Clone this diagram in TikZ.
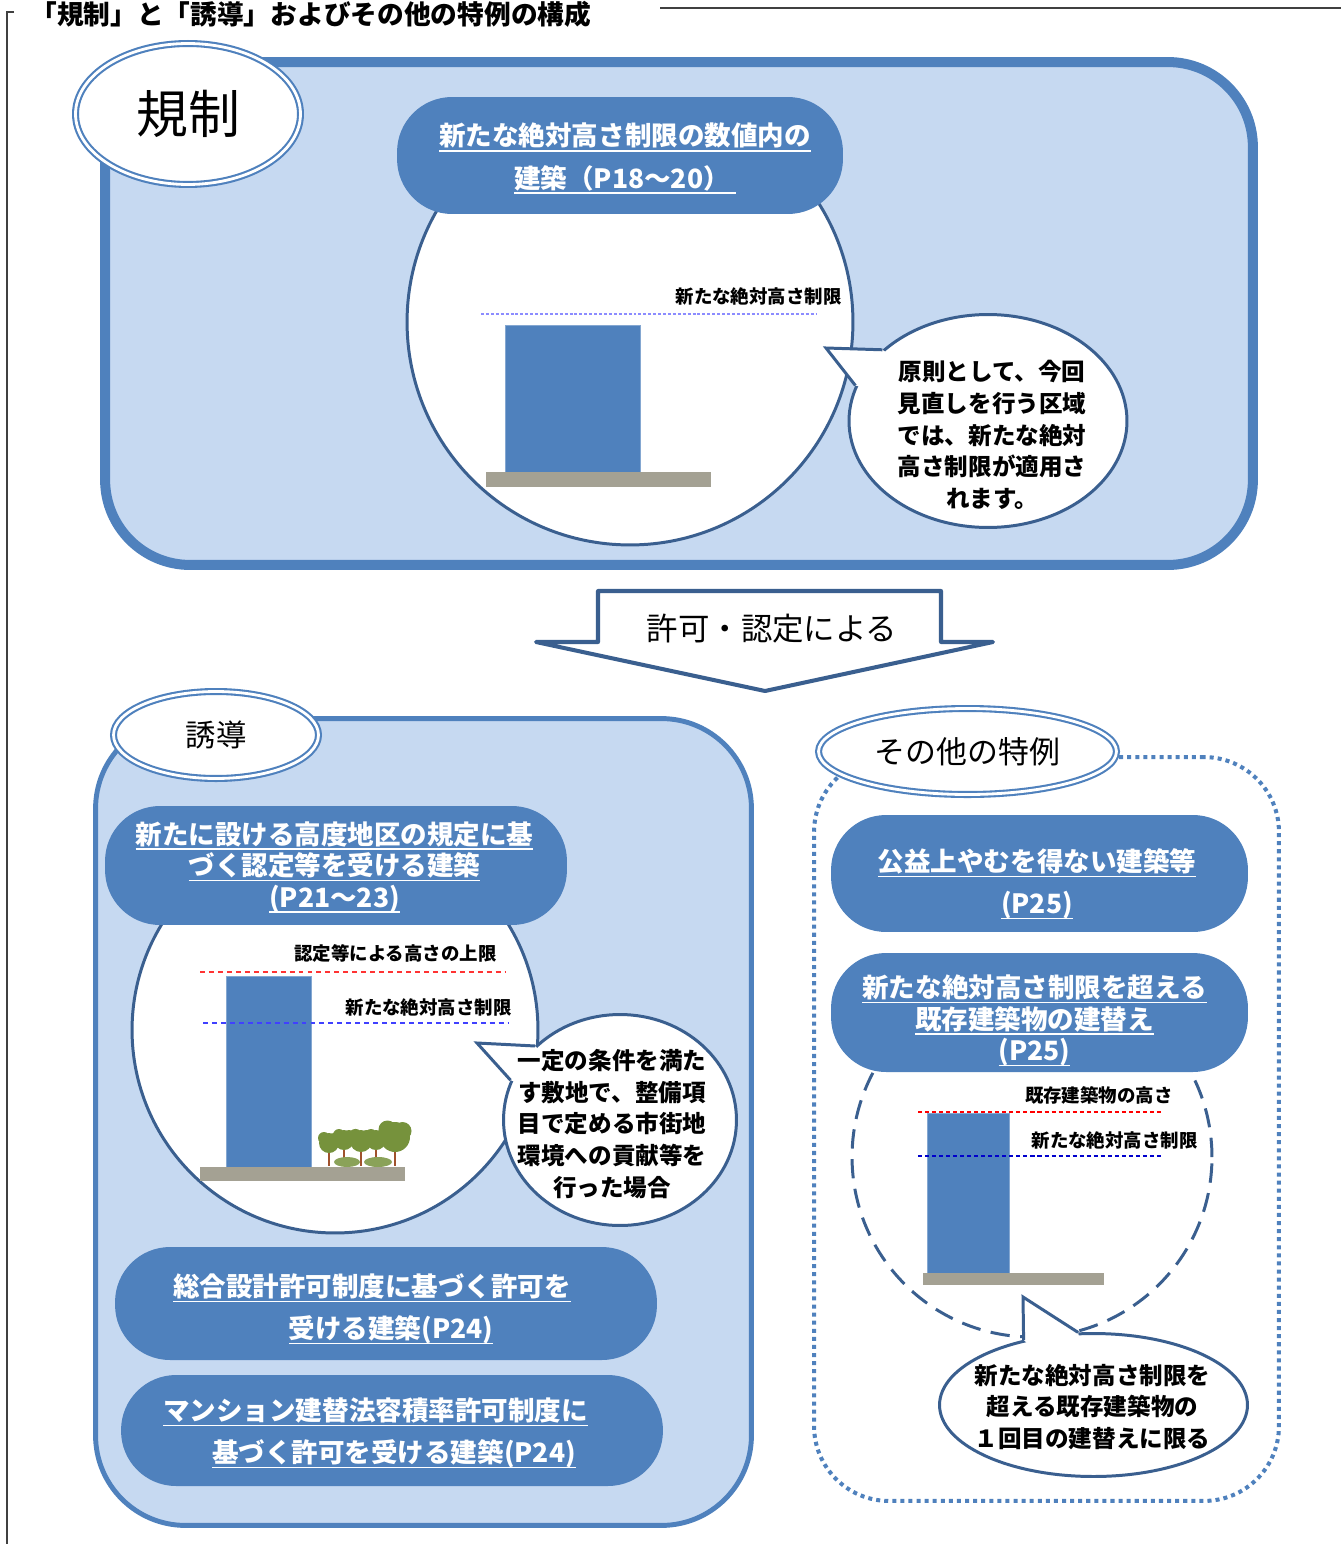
\documentclass[tikz,border=0pt]{standalone}
\usepackage{fontspec}
\setmainfont{Noto Sans CJK JP}
\usetikzlibrary{shapes.geometric, calc}

\definecolor{zonefill}{HTML}{C6D9F1}
\definecolor{zoneline}{HTML}{4F81BD}
\definecolor{pillblue}{HTML}{4F81BD}
\definecolor{rimblue}{HTML}{3A5F8F}
\definecolor{groundgray}{HTML}{A4A193}
\definecolor{leaf}{HTML}{76923C}
\definecolor{trunkbrown}{HTML}{A0522D}
\definecolor{framegray}{HTML}{404040}

\newcommand\pilltxt{\fontsize{15.1}{24}\selectfont\bfseries}
\newcommand\pilltxtc{\fontsize{15.1}{17.9}\selectfont\bfseries}
\newcommand\notetxt{\fontsize{10.5}{12}\selectfont\bfseries}
\newcommand\saytxt{\fontsize{13.4}{18.1}\selectfont\bfseries}
\newcommand\ulin[1]{\leavevmode\setbox0=\hbox{#1}\rlap{\rule[-3.2pt]{\wd0}{0.9pt}}\box0}

\tikzset{
  zone/.style={draw=zoneline, fill=zonefill, inner sep=0pt},
  pill/.style={fill=pillblue, rounded corners=1.1cm, inner sep=0pt},
  pilltext/.style={text=white, align=center, inner sep=0pt},
  tagoval/.style={ellipse, draw=zoneline, line width=1.2pt, double=white, double distance=1.6pt, fill=white, inner sep=0pt},
  lens/.style={circle, draw=rimblue, fill=white, line width=1.7pt, inner sep=0pt},
  balloon/.style={ellipse, draw=rimblue, fill=white, line width=1.7pt, inner sep=0pt},
  balloonedge/.style={draw=rimblue, line width=1.7pt, line join=miter},
  tower/.style={fill=pillblue, draw=pillblue!70!white, line width=0.4pt},
  ground/.style={fill=groundgray},
  limit/.style={dash pattern=on 2.8pt off 2.3pt, line width=0.85pt},
  note/.style={font=\notetxt, anchor=east, inner sep=0pt},
  say/.style={font=\saytxt, align=center, inner sep=0pt}
}

\begin{document}
\begin{tikzpicture}[x=0.02cm, y=-0.02cm]
  \useasboundingbox (0,0) rectangle (1341,1544);

  \draw[framegray, line width=0.8pt] (14,12) -- (7,12) -- (7,1544);
  \draw[framegray, line width=0.8pt] (660,8) -- (1341,8);
  \node[font=\fontsize{15.2}{18}\selectfont\bfseries, anchor=west, inner sep=0pt] (title) at (30,14)
    {「規制」と「誘導」およびその他の特例の構成};

  % upper zone
  \node[zone, line width=5.7pt, rounded corners=1.7cm, minimum width=22.96cm, minimum height=10.06cm] (kisei) at (679,313.5) {};
  \node[lens, minimum size=8.92cm] (lens1) at (630,322) {};
  \coordinate (lim1a) at (481,314);
  \coordinate (lim1b) at (817,314);
  \draw[color=blue!45, dash pattern=on 1.7pt off 1.1pt, line width=0.6pt] (lim1a) -- (lim1b);
  \node[note] (lim1txt) at (842,296) {新たな絶対高さ制限};
  \fill[tower] (505,325) rectangle (640,472);
  \fill[ground] (486,472) rectangle (711,487);
  \node[pill, minimum width=8.92cm, minimum height=2.34cm] (p1) at (620,155.5) {};
  \node[pilltext, font=\pilltxt] (p1txt) at (625,158.5)
    {\ulin{新たな絶対高さ制限の数値内の}\\\ulin{建築（P18～20）\ }};
  \node[balloon, minimum width=5.56cm, minimum height=4.26cm] (say1) at (988,421) {};
  \coordinate (tip1) at (826,348);
  \fill[white] (tip1) -- (say1.146) -- ($(say1.146)!0.12!(say1.center)$) -- ($(say1.165)!0.12!(say1.center)$) -- (say1.165) -- cycle;
  \draw[balloonedge] (say1.146) -- (tip1) -- (say1.165);
  \node[say] (say1txt) at (992,435) {原則として、今回\\見直しを行う区域\\では、新たな絶対\\高さ制限が適用さ\\れます。};
  \node[tagoval, font=\fontsize{29.5}{30}\selectfont, minimum width=4.5cm, minimum height=2.82cm] (kiseitag) at (188,114)
    {\raisebox{-2.3pt}{規制}};

  % arrow
  \draw[rimblue, line width=2.3pt, fill=white, line join=round]
    (598,591) -- (941,591) -- (941,642) -- (993,642) -- (765,691) -- (536,642) -- (598,642) -- cycle;
  \node[font=\fontsize{17.9}{20}\selectfont] (via) at (772,629) {許可・認定による};

  % lower left zone
  \node[zone, line width=2.8pt, rounded corners=1.8cm, minimum width=13.12cm, minimum height=16.14cm] (yudo) at (423.5,1122) {};
  \node[lens, minimum size=8.12cm] (lens2) at (335,1030) {};
  \draw[limit, color=red!80] (200,972) -- (505,972);
  \node[note] (lim2txt) at (497,953) {認定等による高さの上限};
  \node[note] (lim3txt) at (512,1007) {新たな絶対高さ制限};
  \fill[tower] (226,976) rectangle (311,1167);
  \draw[limit, color=blue!75] (203,1023) -- (508,1023);
  \foreach \tx/\ty/\tr in {329/1143/10, 344/1140/10, 361/1141/11, 376/1140/10, 395/1137/15} {
    \draw[trunkbrown, line width=1pt] (\tx,\ty) -- (\tx,1166);
    \fill[leaf] (\tx,\ty) circle (\tr) (\tx-\tr*0.5,\ty-\tr*0.5) circle (\tr*0.6) (\tx+\tr*0.5,\ty-\tr*0.4) circle (\tr*0.6);
  }
  \fill[leaf!85!white] (347,1162) ellipse [x radius=13, y radius=5] (378,1162) ellipse [x radius=14, y radius=5];
  \fill[ground] (200,1167) rectangle (405,1181);
  \node[pill, minimum width=9.24cm, minimum height=2.38cm] (p2) at (336,865.5) {};
  \node[pilltext, font=\pilltxtc] (p2txt) at (334.5,867)
    {\ulin{新たに設ける高度地区の規定に基}\\\ulin{づく認定等を受ける建築}\\\ulin{(P21～23)}};
  \node[balloon, minimum width=4.66cm, minimum height=4.22cm] (say2) at (620,1120) {};
  \coordinate (tip2) at (477,1043);
  \fill[white] (tip2) -- (say2.139) -- ($(say2.139)!0.12!(say2.center)$) -- ($(say2.160)!0.12!(say2.center)$) -- (say2.160) -- cycle;
  \draw[balloonedge] (say2.139) -- (tip2) -- (say2.160);
  \node[say] (say2txt) at (612,1124) {一定の条件を満た\\す敷地で、整備項\\目で定める市街地\\環境への貢献等を\\行った場合};
  \node[pill, minimum width=10.84cm, minimum height=2.26cm] (p3) at (386,1303.5) {};
  \node[pilltext, font=\pilltxt] (p3txt) at (386,1309)
    {\ulin{総合設計許可制度に基づく許可を}\hspace*{15.9pt}\\\hspace*{5.7pt}\ulin{受ける建築(P24)}};
  \node[pill, minimum width=10.84cm, minimum height=2.22cm] (p4) at (392,1430.5) {};
  \node[pilltext, font=\pilltxt] (p4txt) at (392,1433)
    {\ulin{マンション建替法容積率許可制度に}\hspace*{18.7pt}\\\hspace*{2.3pt}\ulin{基づく許可を受ける建築(P24)}};
  \node[tagoval, font=\fontsize{17.3}{20}\selectfont, minimum width=4.1cm, minimum height=1.74cm] (yudotag) at (216,735) {誘導};

  % lower right zone
  \node[draw=zoneline, line width=2.3pt, dash pattern=on 2.3pt off 2.3pt, rounded corners=1.5cm,
        minimum width=9.3cm, minimum height=14.88cm] (tokurei) at (1046.5,1129) {};
  \node[tagoval, font=\fontsize{17.6}{20}\selectfont, minimum width=5.96cm, minimum height=1.72cm] (tokureitag) at (967.5,751.5) {その他の特例};
  \node[pill, minimum width=8.34cm, minimum height=2.34cm] (p5) at (1039.5,873.5) {};
  \node[pilltext, font=\pilltxt] (p5txt) at (1037,884)
    {\ulin{公益上やむを得ない建築等}\\\ulin{(P25)}};
  \node[lens, dash pattern=on 11pt off 6pt, minimum size=7.2cm] (lens3) at (1032,1157) {};
  \draw[color=red, dash pattern=on 2.3pt off 1.7pt, line width=0.6pt] (918,1112) -- (1163,1112);
  \node[note] (lim4txt) at (1173,1095) {既存建築物の高さ};
  \node[note] (lim5txt) at (1198,1140) {新たな絶対高さ制限};
  \fill[tower] (927,1113) rectangle (1009,1273);
  \draw[color=blue!80!black, dash pattern=on 2.3pt off 1.7pt, line width=0.6pt] (918,1156) -- (1163,1156);
  \fill[ground] (923,1273) rectangle (1104,1285);
  \node[pill, minimum width=8.34cm, minimum height=2.38cm] (p6) at (1039.5,1012.5) {};
  \node[pilltext, font=\pilltxtc] (p6txt) at (1034.5,1020.5)
    {\ulin{新たな絶対高さ制限を超える}\\\ulin{既存建築物の建替え}\\\ulin{(P25)}};
  \node[balloon, minimum width=6.16cm, minimum height=2.86cm] (say3) at (1093.5,1405) {};
  \coordinate (tip3) at (1023,1297);
  \fill[white] (tip3) -- (say3.137) -- ($(say3.137)!0.12!(say3.center)$) -- ($(say3.102)!0.12!(say3.center)$) -- (say3.102) -- cycle;
  \draw[balloonedge] (say3.137) -- (tip3) -- (say3.102);
  \node[say] (say3txt) at (1092.5,1407) {新たな絶対高さ制限を\\超える既存建築物の\\１回目の建替えに限る};
\end{tikzpicture}
\end{document}
